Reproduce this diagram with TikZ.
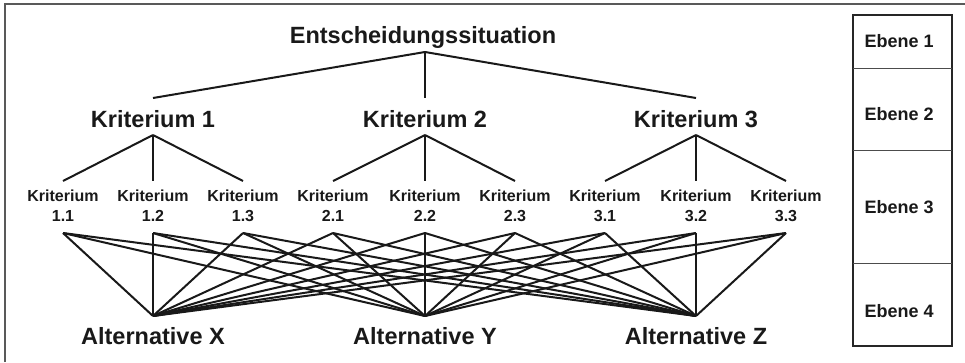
\documentclass[tikz,border=0pt]{standalone}
\usepackage{fontspec}
\setmainfont{Liberation Sans}
\begin{document}
\begin{tikzpicture}[x=1pt,y=-1pt,
  big/.style={font=\bfseries\fontsize{23.5}{27}\selectfont, text=black!90, inner sep=0pt, anchor=base},
  subk/.style={font=\bfseries\fontsize{16}{20}\selectfont, text=black!90, align=center, inner sep=0pt, anchor=base},
  lvl/.style={font=\bfseries\fontsize{18}{20}\selectfont, text=black!90, inner sep=0pt, anchor=base},
  edge/.style={line width=2pt, black!90},
  frame/.style={line width=1.2pt, black!65},
  boxline/.style={line width=1.1pt, black!85},
  divline/.style={line width=0.8pt, black!70}]
\useasboundingbox (0,0) rectangle (965,362);
% outer frame (cropped)
\draw[frame] (5,362) -- (5,4) -- (965,4);
% level box
\draw[boxline] (853,15) rectangle (952,346);
\draw[divline] (853,68) -- (952,68);
\draw[divline] (853,150) -- (952,150);
\draw[divline] (853,263) -- (952,263);
\node[lvl] (e1) at (899,47) {Ebene 1};
\node[lvl] (e2) at (899,120) {Ebene 2};
\node[lvl] (e3) at (899,213) {Ebene 3};
\node[lvl] (e4) at (899,317) {Ebene 4};
% level 1
\node[big] (top) at (423,43) {Entscheidungssituation};
\coordinate (topb) at (425,52);
% level 2
\foreach \i/\x in {1/153,2/425,3/696}{
  \node[big] (k\i) at (\x,127) {Kriterium \i};
  \coordinate (k\i t) at (\x,98);
  \coordinate (k\i b) at (\x,135);
  \draw[edge] (topb) -- (k\i t);
}
% level 3
\foreach \p/\j/\x in {1/1/63,1/2/153,1/3/243,2/1/333,2/2/425,2/3/515,3/1/605,3/2/696,3/3/786}{
  \node[subk] (s\p\j) at (\x,221.7) {Kriterium\\\p.\j};
  \coordinate (s\p\j t) at (\x,181);
  \coordinate (s\p\j b) at (\x,233);
  \draw[edge] (k\p b) -- (s\p\j t);
}
% level 4
\foreach \a/\x in {X/153,Y/425,Z/696}{
  \node[big] (alt\a) at (\x,344) {Alternative \a};
  \coordinate (alt\a t) at (\x,316);
}
\foreach \p in {1,2,3}{
  \foreach \j in {1,2,3}{
    \foreach \a in {X,Y,Z}{
      \draw[edge, line join=round] (s\p\j b) -- (alt\a t);
    }
  }
}
\end{tikzpicture}
\end{document}
